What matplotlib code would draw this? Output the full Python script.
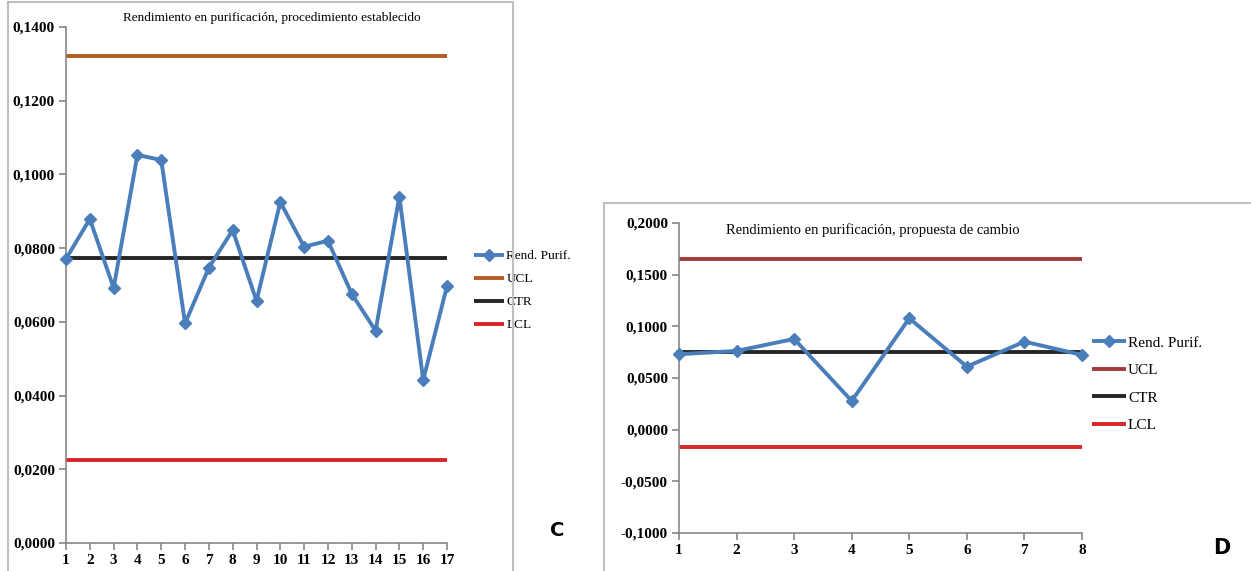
import matplotlib
matplotlib.use("Agg")
import matplotlib.pyplot as plt
import matplotlib.patches as patches
from matplotlib.ticker import FuncFormatter, MultipleLocator

plt.rcParams['font.family'] = ['Liberation Serif', 'DejaVu Serif']
plt.rcParams['lines.solid_capstyle'] = 'butt'

# Panel C: procedimiento establecido
samples_c = list(range(1, 18))
rend_c = [0.0771, 0.0879, 0.0692, 0.1053, 0.1039, 0.0596, 0.0747, 0.0849, 0.0657,
          0.0925, 0.0804, 0.0820, 0.0676, 0.0576, 0.0940, 0.0442, 0.0697]
ucl_c = 0.1322
ctr_c = 0.0774
lcl_c = 0.0225

# Panel D: propuesta de cambio
samples_d = list(range(1, 9))
rend_d = [0.0730, 0.0762, 0.0878, 0.0278, 0.1078, 0.0610, 0.0852, 0.0723]
ucl_d = 0.1655
ctr_d = 0.0747
lcl_d = -0.0165

BLUE = "#4a7ebb"
BLACK = "#262626"
RED = "#d9262a"

def comma_fmt(v, pos):
    return f"{v:.4f}".replace(".", ",")

def draw_panel(ax, x, y, ucl, ctr, lcl, ucl_color, title, title_size):
    ax.plot(x, y, color=BLUE, lw=2.8, marker="D", ms=6.5, label="Rend. Purif.", zorder=4, clip_on=False)
    ax.plot([x[0], x[-1]], [ucl, ucl], color=ucl_color, lw=2.8, label="UCL", clip_on=False)
    ax.plot([x[0], x[-1]], [ctr, ctr], color=BLACK, lw=2.8, label="CTR", clip_on=False)
    ax.plot([x[0], x[-1]], [lcl, lcl], color=RED, lw=2.8, label="LCL", clip_on=False)
    ax.set_xlim(x[0], x[-1])
    ax.set_xticks(x)
    ax.yaxis.set_major_formatter(FuncFormatter(comma_fmt))
    for s in ("top", "right"):
        ax.spines[s].set_visible(False)
    for s in ("left", "bottom"):
        ax.spines[s].set_color("#868686")
        ax.spines[s].set_linewidth(1.2)
    ax.tick_params(axis="both", direction="out", length=5, color="#868686", width=1.2,
                   labelsize=11, pad=3)
    for lab in ax.get_xticklabels() + ax.get_yticklabels():
        lab.set_fontweight("bold")
    ax.set_title(title, fontsize=title_size, pad=0, y=1.0, va="center")

fig = plt.figure(figsize=(12.51, 5.71), dpi=100)
W, H = 1251, 571

# outer frames of each panel
fig.patches.append(patches.Rectangle((8 / W, -0.01), 505 / W, 1 - 2 / H + 0.01, transform=fig.transFigure,
                                     fill=False, edgecolor="#bfbfbf", lw=1.5))
fig.patches.append(patches.Rectangle((604 / W, -0.01), 660 / W, 1 - 203 / H + 0.01, transform=fig.transFigure,
                                     fill=False, edgecolor="#bfbfbf", lw=1.5))

ax1 = fig.add_axes([66 / W, 1 - 543 / H, 381 / W, 516 / H])
draw_panel(ax1, samples_c, rend_c, ucl_c, ctr_c, lcl_c, "#b45c22",
           "Rendimiento en purificación, procedimiento establecido", 9.5)
ax1.set_ylim(0, 0.14)
ax1.yaxis.set_major_locator(MultipleLocator(0.02))
ax1.title.set_position((0.54, 1 + 9 / 516))
ax1.legend(loc="upper left", bbox_to_anchor=(474 / W, 1 - 250 / H), bbox_transform=fig.transFigure,
           frameon=False, fontsize=9.5, handlelength=2.3, handletextpad=0.15, labelspacing=0.82,
           borderaxespad=0, borderpad=0)
fig.text(557 / W, 1 - 530 / H, "C", family="DejaVu Sans", fontweight="bold", fontsize=14,
         ha="center", va="center")

ax2 = fig.add_axes([679 / W, 1 - 533 / H, 403 / W, 310 / H])
draw_panel(ax2, samples_d, rend_d, ucl_d, ctr_d, lcl_d, "#a33a3a",
           "Rendimiento en purificación, propuesta de cambio", 10.5)
ax2.set_ylim(-0.1, 0.2)
ax2.yaxis.set_major_locator(MultipleLocator(0.05))
ax2.title.set_position((0.48, 1 - 7 / 310))
ax2.legend(loc="upper left", bbox_to_anchor=(1092 / W, 1 - 336 / H), bbox_transform=fig.transFigure,
           frameon=False, fontsize=11, handlelength=2.2, handletextpad=0.15, labelspacing=0.9,
           borderaxespad=0, borderpad=0)
fig.text(1222 / W, 1 - 548 / H, "D", family="DejaVu Sans", fontweight="bold", fontsize=15,
         ha="center", va="center")

fig.savefig("out.png", dpi=100)
